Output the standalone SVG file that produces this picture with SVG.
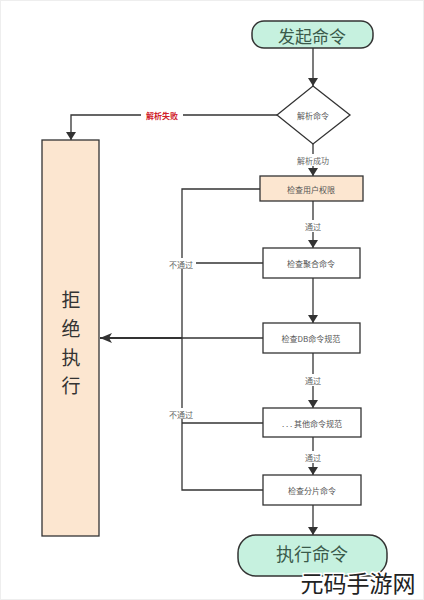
<svg xmlns="http://www.w3.org/2000/svg" width="424" height="600" viewBox="0 0 424 600">
<defs>
<marker id="ah" markerWidth="8" markerHeight="10" refX="8" refY="5" orient="auto" markerUnits="userSpaceOnUse"><path d="M0,0 L8,5 L0,10 Z" fill="#333"/></marker>
<marker id="ahb" markerWidth="12" markerHeight="10" refX="12" refY="5" orient="auto" markerUnits="userSpaceOnUse"><path d="M0,0 L12,5 L0,10 L3,5 Z" fill="#333"/></marker>
<style>
text{font-family:"Noto Sans CJK SC","DejaVu Sans",sans-serif;text-anchor:middle;dominant-baseline:central;fill:#555}
.box{fill:#fff;stroke:#333;stroke-width:1.3}
.peach{fill:#fce6d0;stroke:#333;stroke-width:1.3}
.term{fill:#c6f1df;stroke:#333;stroke-width:1.5}
.ln{fill:none;stroke:#333;stroke-width:1.3}
.lbl{font-size:8px;fill:#666}
.small{font-size:8px;fill:#555}
</style>
</defs>
<rect x="0.5" y="0.5" width="423" height="599" fill="#fff" stroke="#eee"/>
<g id="connectors">
<line class="ln" x1="313" y1="48" x2="313" y2="86" marker-end="url(#ah)"/>
<polyline class="ln" points="277,115 71,115 71,140" marker-end="url(#ah)"/>
<rect x="141" y="109" width="42" height="12" fill="#fff"/>
<text x="162" y="115" style="font-size:8px;fill:#d0202a;font-weight:bold">解析失败</text>
<line class="ln" x1="313" y1="144" x2="313" y2="176" marker-end="url(#ah)"/>
<rect x="292" y="154" width="42" height="12" fill="#fff"/>
<text class="lbl" x="313" y="160">解析成功</text>
<line class="ln" x1="313" y1="201" x2="313" y2="248" marker-end="url(#ah)"/>
<rect x="302" y="220" width="22" height="12" fill="#fff"/>
<text class="lbl" x="313" y="226">通过</text>
<line class="ln" x1="313" y1="278" x2="313" y2="323" marker-end="url(#ah)"/>
<line class="ln" x1="313" y1="353" x2="313" y2="408" marker-end="url(#ah)"/>
<rect x="302" y="374" width="22" height="12" fill="#fff"/>
<text class="lbl" x="313" y="380">通过</text>
<line class="ln" x1="313" y1="437" x2="313" y2="475" marker-end="url(#ah)"/>
<rect x="302" y="451" width="22" height="12" fill="#fff"/>
<text class="lbl" x="313" y="457">通过</text>
<line class="ln" x1="313" y1="505" x2="313" y2="535" marker-end="url(#ah)"/>
<polyline class="ln" points="260,189 182,189 182,490 263,490"/>
<line class="ln" x1="263" y1="263" x2="182" y2="263"/>
<line class="ln" x1="263" y1="338" x2="182" y2="338"/>
<line class="ln" x1="263" y1="423" x2="182" y2="423"/>
<line x1="182" y1="338" x2="100" y2="338" stroke="#333" stroke-width="2.2" marker-end="url(#ahb)"/>
<rect x="166" y="258" width="30" height="11" fill="#fff"/>
<text class="lbl" x="181" y="264">不通过</text>
<rect x="166" y="408" width="30" height="11" fill="#fff"/>
<text class="lbl" x="181" y="414">不通过</text>
</g>
<g id="start">
<rect class="term" x="252" y="21" width="121" height="27" rx="12"/>
<text x="312" y="35" style="font-size:17px;fill:#3a5a4a">发起命令</text>
</g>
<g id="parse">
<polygon points="313,86 350,115 313,144 277,115" fill="#fff" stroke="#333" stroke-width="1.3"/>
<text class="small" x="313" y="115">解析命令</text>
</g>
<g id="reject">
<rect class="peach" x="42" y="140" width="57" height="396"/>
<text x="71" y="298" style="font-size:19px;fill:#333">拒</text>
<text x="71" y="327" style="font-size:19px;fill:#333">绝</text>
<text x="71" y="356" style="font-size:19px;fill:#333">执</text>
<text x="71" y="384" style="font-size:19px;fill:#333">行</text>
</g>
<g id="perm">
<rect class="peach" x="260" y="176" width="103" height="25"/>
<text class="small" x="311" y="189">检查用户权限</text>
</g>
<g id="agg">
<rect class="box" x="263" y="248" width="97" height="30"/>
<text class="small" x="311" y="263">检查聚合命令</text>
</g>
<g id="db">
<rect class="box" x="263" y="323" width="97" height="30"/>
<text class="small" x="311" y="338">检查DB命令规范</text>
</g>
<g id="other">
<rect class="box" x="263" y="408" width="98" height="29"/>
<text class="small" x="312" y="423">. . . 其他命令规范</text>
</g>
<g id="shard">
<rect class="box" x="263" y="475" width="98" height="30"/>
<text class="small" x="312" y="490">检查分片命令</text>
</g>
<g id="exec">
<rect class="term" x="238" y="535" width="149" height="41" rx="18"/>
<text x="312" y="553" style="font-size:18px;fill:#3a5a4a">执行命令</text>
</g>
<text x="358" y="582" style="font-size:23px;fill:#222;stroke:#fff;stroke-width:3;paint-order:stroke">元码手游网</text>
</svg>
